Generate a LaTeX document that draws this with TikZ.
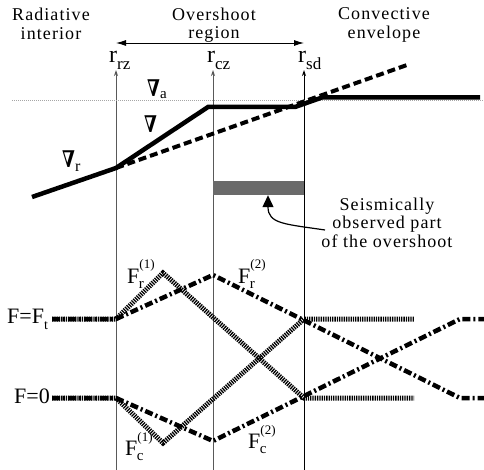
\documentclass[tikz,border=0pt]{standalone}
\usepackage{fontspec}
\setmainfont{Liberation Serif}
\newfontfamily\spaced[LetterSpace=6]{Liberation Serif}
\newfontfamily\djv{DejaVu Serif}
\usepackage{graphicx}
\usetikzlibrary{arrows.meta}
\newcommand{\nab}{\scalebox{0.74}[1]{\djv\bfseries\fontsize{23}{23}\selectfont ∇}}
\newcommand{\Fl}[2]{F\rlap{\raisebox{14pt}{\fontsize{13}{13}\selectfont(#1)}}\kern-0.5pt\raisebox{-5pt}{\fontsize{15}{15}\selectfont #2}}
\definecolor{bargray}{HTML}{6A6A6A}
\begin{document}
\begin{tikzpicture}[x=1pt,y=-1pt,
  lbl/.style={font=\spaced\fontsize{18}{18.5}\selectfont, align=center, inner sep=0},
  rlbl/.style={anchor=base west, inner sep=0, font=\fontsize{24}{24}\selectfont},
  nlbl/.style={anchor=base west, inner sep=0},
  flbl/.style={anchor=base west, inner sep=0, font=\fontsize{22}{22}\selectfont},
  vline/.style={line width=1pt, -{Stealth[length=6pt,width=4pt]}},
  thickline/.style={line width=4.5pt},
  dashline/.style={line width=4pt, dash pattern=on 8pt off 4pt},
  fdot/.style={line width=5pt, dash pattern=on 1.3pt off 1pt},
  fdashdot/.style={line width=4.5pt, dash pattern=on 8pt off 3pt on 2pt off 3pt},
  refline/.style={line width=1.2pt, black!35, dash pattern=on 1pt off 1pt}
]
\useasboundingbox (0,0) rectangle (484,470);

% top texts
\node[lbl] (rad) at (51,24) {Radiative\\interior};
\node[lbl] (ovs) at (214,25) {Overshoot\\region};
\node[lbl] (cnv) at (384,25) {Convective\\envelope};

% vertical lines
\coordinate (rzb) at (116,470); \coordinate (rzt) at (116,70);
\coordinate (czb) at (213,470); \coordinate (czt) at (213,70);
\coordinate (sdb) at (304,470); \coordinate (sdt) at (304,70);
\draw[vline, black!65] (rzb) -- (rzt);
\draw[vline, black!65] (czb) -- (czt);
\draw[vline, black] (sdb) -- (sdt);

% double arrow
\coordinate (aL) at (116,43); \coordinate (aR) at (304,43);
\draw[line width=0.9pt, {Latex[length=10pt,width=6pt]}-{Latex[length=10pt,width=6pt]}] (aL) -- (aR);

% r labels
\node[rlbl] (lrz) at (109,63) {r\raisebox{-7pt}{\fontsize{17}{17}\selectfont rz}};
\node[rlbl] (lcz) at (207,63) {r\raisebox{-7pt}{\fontsize{17}{17}\selectfont cz}};
\node[rlbl] (lsd) at (298,63) {r\raisebox{-7pt}{\fontsize{17}{17}\selectfont sd}};

% adiabatic reference
\coordinate (dl) at (12,100.5); \coordinate (dr) at (484,100.5);
\draw[refline] (dl) -- (dr);

% gradients
\coordinate (g0) at (32,197);
\coordinate (g1) at (116,168);
\coordinate (g2) at (208,107);
\coordinate (g3) at (295,107);
\coordinate (g4) at (322,97.5);
\coordinate (g5) at (480,97.5);
\coordinate (d1) at (407,65);
\draw[dashline] (g1) -- (d1);
\draw[thickline] (g0) -- (g1) -- (g2) -- (g3) -- (g4) -- (g5);

\node[nlbl] (na) at (147,97) {\nab\raisebox{-2pt}{\fontsize{15}{15}\selectfont a}};
\node[nlbl] (nn) at (144,133) {\nab};
\node[nlbl] (nr) at (62,168) {\nab\raisebox{-4pt}{\fontsize{16}{16}\selectfont r}};

% seismic bar
\node[fill=bargray, draw=none, inner sep=0, minimum width=91pt, minimum height=14pt] (bar) at (258.5,188) {};
\node[lbl] (seis) at (387,222.5) {Seismically\\observed part\\of the overshoot};
\coordinate (astart) at (325,230);
\draw[line width=1.2pt, -{Triangle[length=12pt,width=11pt]}] (astart) .. controls (285,224) and (268,224) .. (bar.south -| 268,0);

% flux lines
\coordinate (lt) at (52,319); \coordinate (lb) at (52,398);
\coordinate (rt) at (116,319); \coordinate (rb) at (116,398);
% series 1 (dotted)
\coordinate (p1) at (163,273); \coordinate (q1) at (163,443);
\coordinate (s1t) at (304,319); \coordinate (s1b) at (304,398);
\coordinate (e1t) at (414,319); \coordinate (e1b) at (414,398);
\draw[fdot] (lt) -- (rt) -- (p1) -- (s1b) -- (e1b);
\draw[fdot] (lb) -- (rb) -- (q1) -- (s1t) -- (e1t);
% series 2 (dash-dot)
\coordinate (p2) at (213,275); \coordinate (q2) at (213,441);
\coordinate (s2t) at (460,319); \coordinate (s2b) at (460,398);
\coordinate (e2t) at (484,319); \coordinate (e2b) at (484,398);
\draw[fdashdot] (lt) -- (rt) -- (p2) -- (s2b) -- (e2b);
\draw[fdashdot] (lb) -- (rb) -- (q2) -- (s2t) -- (e2t);

% flux labels
\node[flbl] (fft) at (7,323) {F=F\raisebox{-6pt}{\fontsize{14}{14}\selectfont t}};
\node[flbl] (f0) at (14,403) {F=0};
\node[flbl] (fr1) at (127,283) {\Fl{1}{r}};
\node[flbl] (fr2) at (238,283) {\Fl{2}{r}};
\node[flbl] (fc1) at (125,455) {\Fl{1}{c}};
\node[flbl] (fc2) at (248,448) {\Fl{2}{c}};
\end{tikzpicture}
\end{document}
